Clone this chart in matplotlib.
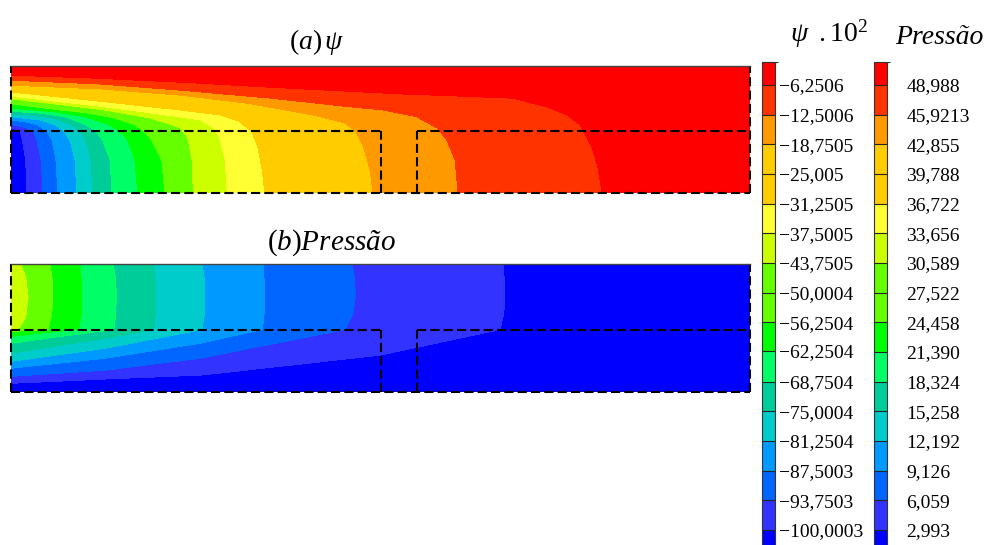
import numpy as np
import matplotlib
matplotlib.use("Agg")
import matplotlib.pyplot as plt
from matplotlib.colors import ListedColormap, BoundaryNorm
import matplotlib.cm as cm

plt.rcParams['font.family'] = ['Liberation Serif', 'DejaVu Serif']
plt.rcParams['mathtext.fontset'] = 'custom'
plt.rcParams['mathtext.rm'] = 'Liberation Serif'
plt.rcParams['mathtext.it'] = 'Liberation Serif:italic'
plt.rcParams['mathtext.bf'] = 'Liberation Serif:bold'

# ---------------- data ----------------
band_colors = ['#0000FF', '#3333FF', '#0066FF', '#0099FF', '#00CCCC', '#00CC99',
               '#00FF66', '#00FF00', '#66FF00', '#66FF00', '#CCFF00', '#FFFF33',
               '#FFCC00', '#FFCC00', '#FF9900', '#FF3300', '#FF0000']

psi_levels = [-100.0003, -93.7503, -87.5003, -81.2504, -75.0004, -68.7504, -62.2504,
              -56.2504, -50.0004, -43.7505, -37.5005, -31.2505, -25.005, -18.7505,
              -12.5006, -6.2506]
psi_labels = ['\u2212100,0003', '\u221293,7503', '\u221287,5003', '\u221281,2504',
              '\u221275,0004', '\u221268,7504', '\u221262,2504', '\u221256,2504',
              '\u221250,0004', '\u221243,7505', '\u221237,5005', '\u221231,2505',
              '\u221225,005', '\u221218,7505', '\u221212,5006', '\u22126,2506']

p_levels = [2.993, 6.059, 9.126, 12.192, 15.258, 18.324, 21.390, 24.458, 27.522,
            30.589, 33.656, 36.722, 39.788, 42.855, 45.9213, 48.988]
p_labels = ['2,993', '6,059', '9,126', '12,192', '15,258', '18,324', '21,390',
            '24,458', '27,522', '30,589', '33,656', '36,722', '39,788', '42,855',
            '45,9213', '48,988']

# domain geometry (channel-height units)
domain_len = 12.0
domain_h = 2.05
channel_h = 1.0
block1_end = 6.0
block2_start = 6.6

# psi contour lines (ascending level)
psi_cx = [
    [0.26, 0.24, 0.19, 0.15, 0.06, 0.00],
    [0.52, 0.49, 0.42, 0.36, 0.23, 0.00],
    [0.76, 0.73, 0.67, 0.58, 0.44, 0.23, 0.00],
    [1.07, 1.04, 0.96, 0.86, 0.71, 0.47, 0.00],
    [1.33, 1.30, 1.22, 1.12, 0.96, 0.67, 0.31, 0.00],
    [1.64, 1.61, 1.49, 1.38, 1.20, 0.88, 0.47, 0.00],
    [2.06, 2.01, 1.90, 1.77, 1.58, 1.20, 0.71, 0.00],
    [2.50, 2.45, 2.29, 2.18, 2.01, 1.69, 1.25, 0.71, 0.00],
    [2.74, 2.71, 2.61, 2.42, 1.93, 1.12, 0.00],
    [2.96, 2.94, 2.87, 2.74, 2.26, 1.45, 0.00],
    [3.51, 3.48, 3.39, 3.28, 3.07, 2.74, 1.45, 0.00],
    [4.12, 4.08, 4.01, 3.91, 3.72, 3.39, 2.74, 1.45, 0.00],
    [5.02, 4.95, 4.82, 4.61, 4.04, 3.07, 1.45, 0.00],
    [5.88, 5.83, 5.73, 5.60, 5.42, 4.90, 3.83, 2.74, 1.45, 0.00],
    [7.26, 7.21, 7.08, 6.92, 6.59, 6.04, 5.51, 4.21, 2.74, 1.45, 0.00],
    [9.60, 9.53, 9.45, 9.35, 9.24, 9.03, 8.70, 8.15, 6.32, 4.69, 3.07, 1.45, 0.00],
]
psi_cy = [
    [0, 0.53, 0.85, 1.00, 1.03, 1.05],
    [0, 0.53, 0.85, 1.00, 1.06, 1.11],
    [0, 0.53, 0.85, 1.00, 1.10, 1.15, 1.18],
    [0, 0.53, 0.85, 1.00, 1.10, 1.18, 1.23],
    [0, 0.53, 0.85, 1.00, 1.11, 1.21, 1.26, 1.27],
    [0, 0.53, 0.85, 1.00, 1.11, 1.23, 1.29, 1.32],
    [0, 0.53, 0.85, 1.00, 1.11, 1.23, 1.31, 1.37],
    [0, 0.53, 0.85, 0.98, 1.10, 1.21, 1.29, 1.35, 1.44],
    [0, 0.53, 0.94, 1.10, 1.24, 1.37, 1.48],
    [0, 0.53, 0.90, 1.06, 1.21, 1.35, 1.52],
    [0, 0.53, 0.90, 1.06, 1.18, 1.23, 1.40, 1.56],
    [0, 0.37, 0.74, 0.98, 1.15, 1.26, 1.34, 1.48, 1.63],
    [0, 0.53, 1.00, 1.16, 1.34, 1.47, 1.58, 1.69],
    [0, 0.37, 0.73, 1.00, 1.13, 1.26, 1.45, 1.58, 1.68, 1.74],
    [0, 0.53, 0.85, 1.05, 1.23, 1.34, 1.39, 1.53, 1.66, 1.76, 1.82],
    [0, 0.42, 0.69, 0.90, 1.10, 1.26, 1.39, 1.53, 1.60, 1.68, 1.77, 1.85, 1.90],
]
psi_edge_y = [0.0, 2.05]
psi_edge_v = [-105.0, -2.0]
psi_right = -2.0

# pressure contour lines (ascending level, only those present)
p_cx = [
    [0.00, 1.53, 3.07, 5.99, 7.94, 8.00, 8.02, 8.01, 7.99],
    [0.00, 1.53, 3.07, 5.42, 5.55, 5.59, 5.58, 5.54],
    [0.00, 1.53, 3.07, 4.08, 4.11, 4.12, 4.11, 4.09],
    [0.00, 1.53, 3.10, 3.14, 3.15, 3.14, 3.10],
    [0.00, 1.53, 2.32, 2.34, 2.35, 2.34, 2.31],
    [0.00, 0.80, 1.67, 1.70, 1.71, 1.70, 1.66],
    [0.00, 0.55, 1.10, 1.14, 1.15, 1.14, 1.12],
    [0.00, 0.60, 0.66, 0.68, 0.67, 0.63],
    [0.00, 0.31, 0.44, 0.47, 0.44, 0.34],
    [0.00, 0.06, 0.15, 0.24, 0.28, 0.24, 0.15],
]
p_cy = [
    [0.14, 0.21, 0.27, 0.59, 1.00, 1.25, 1.52, 1.80, 2.05],
    [0.25, 0.35, 0.54, 1.00, 1.25, 1.52, 1.80, 2.05],
    [0.38, 0.54, 0.78, 1.00, 1.25, 1.52, 1.80, 2.05],
    [0.49, 0.70, 1.00, 1.25, 1.52, 1.80, 2.05],
    [0.62, 0.86, 1.00, 1.25, 1.52, 1.80, 2.05],
    [0.78, 0.89, 1.00, 1.25, 1.52, 1.80, 2.05],
    [0.89, 0.95, 1.00, 1.25, 1.52, 1.80, 2.05],
    [0.97, 1.00, 1.25, 1.52, 1.80, 2.05],
    [0.98, 1.00, 1.25, 1.52, 1.80, 2.05],
    [0.99, 1.00, 1.05, 1.20, 1.52, 1.85, 2.05],
]
p_edge_y = [0.0, 1.0, 1.52, 2.05]
p_edge_v = [1.0, 31.2, 33.3, 32.6]
p_right = 1.5

# colorbar extents (values at the ends of the bars)
psi_cbar_lo, psi_cbar_hi = -106.3, -1.4
p_cbar_lo, p_cbar_hi = -0.1, 51.37


def build_field(xg, yg, levels, cxs, cys, edge_y, edge_v, right_val):
    lv = list(levels[:len(cxs)])
    ly = [np.asarray(cy)[np.argmin(cx)] for cx, cy in zip(cxs, cys)]
    left_y = np.array(ly + list(edge_y))
    left_v = np.array(lv + list(edge_v))
    o = np.argsort(left_y)
    left_y, left_v = left_y[o], left_v[o]
    Z = np.empty((len(yg), len(xg)))
    for j, y in enumerate(yg):
        px = [0.0]
        pv = [np.interp(y, left_y, left_v)]
        for lev, cx, cy in zip(lv, cxs, cys):
            cx = np.asarray(cx, float)
            cy = np.asarray(cy, float)
            if cy.min() <= y <= cy.max():
                s = np.argsort(cy)
                xk = np.interp(y, cy[s], cx[s])
                if xk > 0:
                    px.append(xk)
                    pv.append(lev)
        px.append(xg[-1])
        pv.append(right_val)
        px = np.array(px)
        pv = np.array(pv)
        o = np.argsort(px, kind='stable')
        Z[j] = np.interp(xg, px[o], pv[o])
    return Z


xg = np.linspace(0, domain_len, 1500)
yg = np.linspace(0, domain_h, 400)
Z_psi = build_field(xg, yg, psi_levels, psi_cx, psi_cy, psi_edge_y, psi_edge_v, psi_right)
Z_p = build_field(xg, yg, p_levels, p_cx, p_cy, p_edge_y, p_edge_v, p_right)

W, H = 989, 545
fig = plt.figure(figsize=(W / 100, H / 100), dpi=100)


def panel(rect, Z, levels):
    ax = fig.add_axes(rect)
    ax.contourf(xg, yg, Z, levels=[-1e6] + list(levels) + [1e6], colors=band_colors,
                antialiased=False)
    ax.set_xlim(0, domain_len)
    ax.set_ylim(0, domain_h)
    ax.set_xticks([])
    ax.set_yticks([])
    for s in ['left', 'right', 'bottom']:
        ax.spines[s].set_visible(False)
    ax.spines['top'].set_color('#444444')
    ax.spines['top'].set_linewidth(1.0)
    ls = (0, (4.4, 2.0))
    kw = dict(color='black', lw=1.5, linestyle=ls, clip_on=False)
    ax.plot([0, 0], [0, domain_h], **kw)
    ax.plot([0, domain_len], [0, 0], **kw)
    ax.plot([domain_len, domain_len], [0, domain_h], **kw)
    ax.plot([0, block1_end], [channel_h, channel_h], **kw)
    ax.plot([block1_end, block1_end], [0, channel_h], **kw)
    ax.plot([block2_start, block2_start], [0, channel_h], **kw)
    ax.plot([block2_start, domain_len], [channel_h, channel_h], **kw)
    return ax


panel([11 / W, (H - 193) / H, 739 / W, 127 / H], Z_psi, psi_levels)
panel([11 / W, (H - 392) / H, 739 / W, 128 / H], Z_p, p_levels)


def add_cbar(x0, levels, labels, lo, hi, pad):
    cax = fig.add_axes([x0 / W, (H - 560) / H, 13 / W, 498 / H])
    bnds = [lo] + list(levels) + [hi]
    cmap = ListedColormap(band_colors)
    norm = BoundaryNorm(bnds, cmap.N)
    sm = cm.ScalarMappable(norm=norm, cmap=cmap)
    cb = fig.colorbar(sm, cax=cax, boundaries=bnds, spacing='proportional',
                      ticks=levels, drawedges=True)
    cb.set_ticklabels(labels)
    cb.ax.tick_params(length=0, pad=pad, labelsize=14)
    cb.outline.set_edgecolor('#333333')
    cb.outline.set_linewidth(0.8)
    cb.dividers.set_color('#222222')
    cb.dividers.set_linewidth(0.8)
    return cb


add_cbar(762, psi_levels, psi_labels, psi_cbar_lo, psi_cbar_hi, 3)
add_cbar(874, p_levels, p_labels, p_cbar_lo, p_cbar_hi, 14)

fig.text(317 / W, 1 - 42 / H, r'$(a)\,\psi$', ha='center', va='center', fontsize=20)
fig.text(331 / W, 1 - 243 / H, r'$(b)Pressão$', ha='center', va='center', fontsize=21)
fig.text(829 / W, 1 - 34 / H, r'$\psi\;\;\mathrm{.10}^{2}$', ha='center', va='center',
         fontsize=20)
fig.text(939 / W, 1 - 37 / H, 'Pressão', ha='center', va='center', fontsize=20,
         style='italic')

fig.savefig('out.png', dpi=100)
